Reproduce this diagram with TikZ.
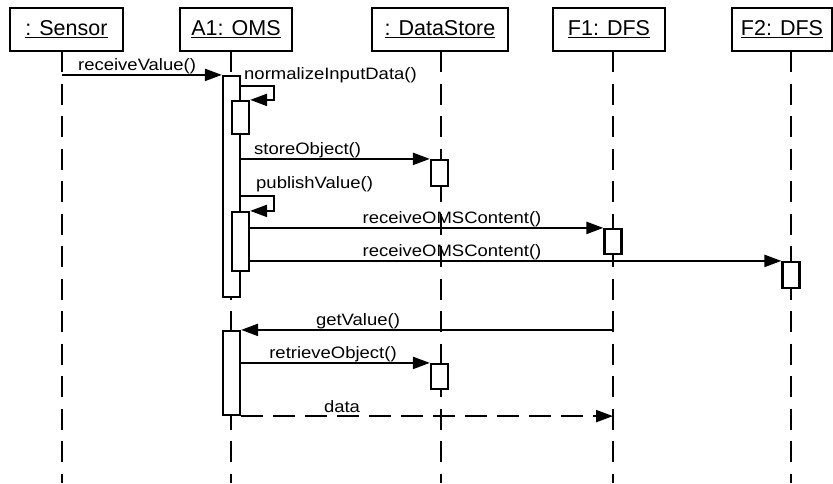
\documentclass[tikz,border=0pt]{standalone}
\usepackage{fontspec}
\setmainfont{Liberation Sans}
\newfontfamily\lblfont[FakeStretch=1.12]{Liberation Sans}
\usetikzlibrary{arrows.meta}
\begin{document}
\begin{tikzpicture}[x=1pt,y=-1pt,
 hdr/.style={draw, line width=2.4pt, minimum height=43pt, inner sep=0pt, font=\fontsize{21.5}{25}\selectfont},
 act/.style={draw, fill=white, line width=2.2pt, inner sep=0pt, minimum width=17pt},
 life/.style={line width=2.2pt, dash pattern=on 21pt off 11.5pt},
 msg/.style={line width=2.2pt, -{Triangle[length=17pt,width=12pt]}},
 ret/.style={msg, dash pattern=on 22pt off 10pt},
 lbl/.style={font=\lblfont\fontsize{16.5}{19}\selectfont, inner sep=1pt},
]
\useasboundingbox (0,0) rectangle (833,483);
% headers
\node[hdr, minimum width=113pt] (hs) at (66.5,29.5) {\underline{: Sensor}};
\node[hdr, minimum width=112pt] (ha) at (236,29.5) {\underline{A1: OMS}};
\node[hdr, minimum width=136pt] (hd) at (440,29.5) {\underline{: DataStore}};
\node[hdr, minimum width=112pt] (hf1) at (609,29.5) {\underline{F1: DFS}};
\node[hdr, minimum width=100pt] (hf2) at (782,29.5) {\underline{F2: DFS}};
% lifeline tops
\coordinate (ls) at (62,51);
\coordinate (la) at (231,51);
\coordinate (ld) at (441,51);
\coordinate (lf1) at (613,51);
\coordinate (lf2) at (791,51);
\foreach \c in {ls,la,ld,lf1,lf2} \draw[life] (\c) -- (\c |- 0,483);
% activations
\node[act, minimum height=221pt] (actA1) at (231.5,186.5) {};
\node[act, minimum height=33pt] (actN1) at (240.5,117.5) {};
\node[act, minimum height=26pt] (actDS1) at (439.5,173) {};
\node[act, minimum height=59pt] (actN2) at (240.5,241.5) {};
\node[act, minimum height=25pt] (actF1) at (613,241.5) {};
\node[act, minimum height=26pt] (actF2) at (791,275) {};
\node[act, minimum height=84pt] (actA1b) at (231.5,373) {};
\node[act, minimum height=25pt] (actDS2) at (439.5,376.5) {};
% messages
\draw[msg] (ls |- actA1.north) -- (actA1.north west);
\node[lbl, anchor=south west] (t1) at (77,75) {receiveValue()};
\coordinate (n0) at (240,86);
\draw[msg] (n0) -- ++(34,0) |- (actN1.north east);
\node[lbl, anchor=south west] (t2) at (243,84) {normalizeInputData()};
\draw[msg] (actA1.east |- actDS1.north) -- (actDS1.north west);
\node[lbl, anchor=south west] (t3) at (253,159) {storeObject()};
\coordinate (p0) at (240,196);
\draw[msg] (p0) -- ++(34,0) |- (actN2.north east);
\node[lbl, anchor=south west] (t4) at (255,193) {publishValue()};
\draw[msg] (actN2.east |- actF1.north) -- (actF1.north west);
\node[lbl, anchor=south] (t5) at (452,228) {receiveOMSContent()};
\draw[msg] (actN2.east |- actF2.north) -- (actF2.north west);
\node[lbl, anchor=south] (t6) at (452,261) {receiveOMSContent()};
\draw[msg] (lf1 |- actA1b.north) -- (actA1b.north east);
\node[lbl, anchor=south] (t7) at (358,330) {getValue()};
\draw[msg] (actA1b.east |- actDS2.north) -- (actDS2.north west);
\node[lbl, anchor=south] (t8) at (333,363) {retrieveObject()};
\draw[ret] (actA1b.south east) -- (lf1 |- actA1b.south);
\node[lbl, anchor=south] (t9) at (342,414) {data};
\end{tikzpicture}
\end{document}
